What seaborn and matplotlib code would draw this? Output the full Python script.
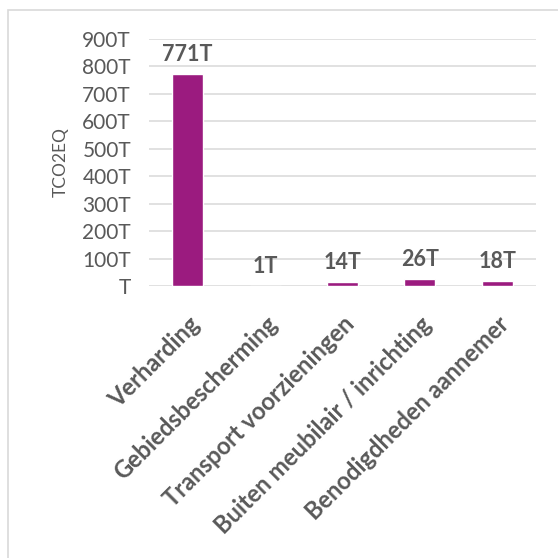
import pandas as pd
import matplotlib.pyplot as plt
import seaborn as sns
from matplotlib.ticker import FuncFormatter
from matplotlib.patches import Rectangle

# data (tonnes CO2 eq, in thousands "T")
categories = ['Verharding', 'Gebiedsbescherming', 'Transport voorzieningen',
              'Buiten meubilair / inrichting', 'Benodigdheden aannemer']
values = [771, 1, 14, 26, 18]
value_labels = ['771T', '1T', '14T', '26T', '18T']

df = pd.DataFrame({'Categorie': categories, 'TCO2EQ': values})

sns.set_theme(style="white")
plt.rcParams['font.family'] = ['Lato', 'DejaVu Sans']

text_color = '#595959'
grid_color = '#D9D9D9'
bar_color = '#9B1B7F'

fig = plt.figure(figsize=(5.58, 5.58), dpi=100)
ax = fig.add_axes([149 / 558, 1 - 286 / 558, 387 / 558, 247 / 558])

sns.barplot(data=df, x='Categorie', y='TCO2EQ', color=bar_color, width=0.4,
            saturation=1, ax=ax, zorder=3)

ax.set_ylim(0, 900)
ax.set_yticks(range(0, 901, 100))
ax.yaxis.set_major_formatter(FuncFormatter(lambda v, p: f"{int(v)}T" if v else "T"))
ax.grid(axis='y', color=grid_color, linewidth=1.1, zorder=0)
ax.set_axisbelow(True)
for s in ax.spines.values():
    s.set_visible(False)

ax.tick_params(axis='y', labelsize=15, colors=text_color, length=0, pad=13)
ax.tick_params(axis='x', length=0, pad=19)
ax.set_xticks(range(len(categories)))
ax.set_xticklabels(categories, rotation=45, ha='right', va='top',
                   rotation_mode='anchor', fontsize=17, fontweight='bold', color=text_color)

ax.set_xlabel('')
ax.set_ylabel('TCO2EQ', fontsize=12.5, color=text_color, labelpad=10)

# value labels above the bars
for i, (v, lab) in enumerate(zip(values, value_labels)):
    ax.annotate(lab, (i, v), xytext=(0, 14), textcoords='offset points',
                ha='center', va='center', fontsize=15.5, fontweight='bold', color=text_color)

# chart border (only left and top visible in the crop)
fig.add_artist(Rectangle((8 / 558, -0.1), 1.2, 1.1 - 10 / 558, transform=fig.transFigure,
                         fill=False, edgecolor=grid_color, linewidth=1.2))

fig.savefig('out.png', dpi=100)
